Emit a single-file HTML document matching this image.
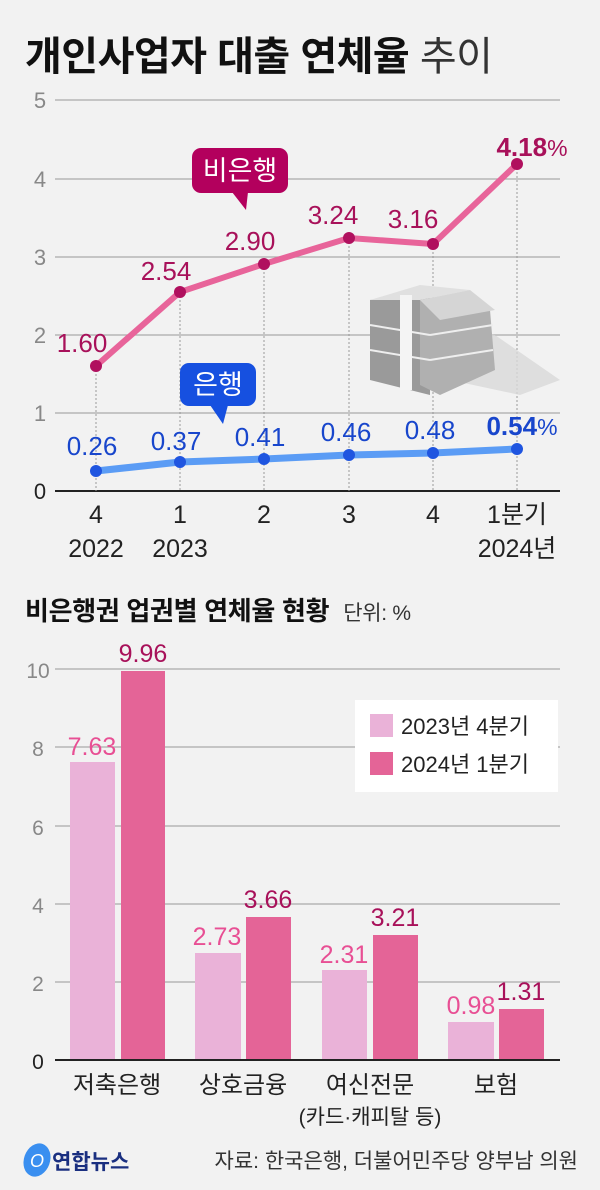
<!DOCTYPE html>
<html><head><meta charset="utf-8"><style>
body{margin:0;background:#f2f2f2;}
svg{display:block;font-family:"Liberation Sans","Noto Sans CJK KR",sans-serif;}
</style></head><body>
<svg width="600" height="1190" viewBox="0 0 600 1190">
<rect width="600" height="1190" fill="#f2f2f2"/>
<text x="25" y="70" font-size="40" font-weight="bold" fill="#111" letter-spacing="-0.5">개인사업자 대출 연체율 <tspan font-weight="normal" fill="#333">추이</tspan></text>
<!-- grid -->
<g stroke="#aaa" stroke-width="1.2"><line x1="55" x2="560" y1="100" y2="100"/><line x1="55" x2="560" y1="179" y2="179"/><line x1="55" x2="560" y1="257" y2="257"/><line x1="55" x2="560" y1="335" y2="335"/><line x1="55" x2="560" y1="413" y2="413"/></g>
<line x1="55" x2="560" y1="491" y2="491" stroke="#222" stroke-width="2"/>
<g font-size="22" fill="#888" text-anchor="middle">
<text x="40" y="108">5</text><text x="40" y="187">4</text><text x="40" y="265">3</text><text x="40" y="343">2</text><text x="40" y="421">1</text><text x="40" y="499" fill="#222">0</text></g>
<g stroke="#999" stroke-dasharray="2,2" stroke-width="1">
<line x1="96" x2="96" y1="366" y2="491"/><line x1="180" x2="180" y1="292" y2="491"/><line x1="264" x2="264" y1="264" y2="491"/><line x1="349" x2="349" y1="238" y2="491"/><line x1="433" x2="433" y1="244" y2="491"/><line x1="517" x2="517" y1="164" y2="491"/></g>
<!-- money stack -->
<g>
<polygon points="440,330 495,335 560,380 520,395 450,380" fill="#d8d8d8" opacity="0.8"/>
<polygon points="370,300 430,290 430,395 370,380" fill="#9a9a9a"/>
<polygon points="370,300 420,285 470,290 420,300" fill="#e0e0e0"/>
<polygon points="420,300 490,310 495,370 440,395 420,385" fill="#b0b0b0"/>
<polygon points="420,300 470,290 495,310 440,320" fill="#d5d5d5"/>
<g stroke="#eee" stroke-width="2"><line x1="370" x2="430" y1="325" y2="335"/><line x1="370" x2="430" y1="350" y2="360"/><line x1="430" x2="493" y1="335" y2="325"/><line x1="430" x2="493" y1="360" y2="350"/></g>
<rect x="400" y="295" width="12" height="95" fill="#f4f4f4"/>
</g>
<!-- pink line -->
<polyline points="96,366 180,292 264,264 349,238 433,244 517,164" fill="none" stroke="#e8649a" stroke-width="6"/>
<g fill="#b0105e"><circle cx="96" cy="366" r="6"/><circle cx="180" cy="292" r="6"/><circle cx="264" cy="264" r="6"/><circle cx="349" cy="238" r="6"/><circle cx="433" cy="244" r="6"/><circle cx="517" cy="164" r="6"/></g>
<g font-size="26" fill="#a8115a" text-anchor="middle">
<text x="82" y="352">1.60</text><text x="166" y="280">2.54</text><text x="250" y="250">2.90</text><text x="333" y="224">3.24</text><text x="413" y="228">3.16</text><text x="532" y="156" font-weight="bold">4.18<tspan font-weight="normal" font-size="23">%</tspan></text></g>
<!-- blue line -->
<polyline points="96,471 180,462 264,459 349,455 433,453 517,449" fill="none" stroke="#5b9cf5" stroke-width="7"/>
<g fill="#1f55e0"><circle cx="96" cy="471" r="6"/><circle cx="180" cy="462" r="6"/><circle cx="264" cy="459" r="6"/><circle cx="349" cy="455" r="6"/><circle cx="433" cy="453" r="6"/><circle cx="517" cy="449" r="6"/></g>
<g font-size="26" fill="#1846cc" text-anchor="middle">
<text x="92" y="455">0.26</text><text x="176" y="450">0.37</text><text x="260" y="446">0.41</text><text x="346" y="441">0.46</text><text x="430" y="439">0.48</text><text x="522" y="435" font-weight="bold">0.54<tspan font-weight="normal" font-size="23">%</tspan></text></g>
<!-- callouts -->
<rect x="192" y="148" width="96" height="45" rx="9" fill="#b3005d"/>
<polygon points="232,192 248,192 246,210" fill="#b3005d"/>
<text x="240" y="180" font-size="27" fill="#fff" text-anchor="middle">비은행</text>
<rect x="180" y="363" width="76" height="43" rx="9" fill="#1650e0"/>
<polygon points="210,405 228,405 223,424" fill="#1650e0"/>
<text x="218" y="394" font-size="27" fill="#fff" text-anchor="middle">은행</text>
<!-- x labels -->
<g font-size="25" fill="#222" text-anchor="middle">
<text x="96" y="523">4</text><text x="180" y="523">1</text><text x="264" y="523">2</text><text x="349" y="523">3</text><text x="433" y="523">4</text><text x="517" y="523">1분기</text>
<text x="96" y="557">2022</text><text x="180" y="557">2023</text><text x="517" y="557">2024년</text></g>
<!-- bar chart -->
<text x="25" y="620" font-size="26" font-weight="bold" fill="#111" letter-spacing="-0.3">비은행권 업권별 연체율 현황<tspan font-weight="normal" font-size="21" fill="#333" dx="14">단위: %</tspan></text>
<g stroke="#aaa" stroke-width="1.2">
<line x1="55" x2="560" y1="669" y2="669"/><line x1="55" x2="560" y1="747" y2="747"/><line x1="55" x2="560" y1="826" y2="826"/><line x1="55" x2="560" y1="904" y2="904"/><line x1="55" x2="560" y1="982" y2="982"/></g>
<g font-size="21" fill="#888" text-anchor="middle">
<text x="38" y="678">10</text><text x="38" y="756">8</text><text x="38" y="835">6</text><text x="38" y="913">4</text><text x="38" y="991">2</text><text x="38" y="1069" fill="#222">0</text></g>
<g fill="#eab2d8"><rect x="70" y="762" width="45" height="298"/><rect x="195" y="953" width="46" height="107"/><rect x="322" y="970" width="45" height="90"/><rect x="448" y="1022" width="46" height="38"/></g>
<g fill="#e46497"><rect x="121" y="671" width="44" height="389"/><rect x="246" y="917" width="45" height="143"/><rect x="373" y="935" width="45" height="125"/><rect x="499" y="1009" width="45" height="51"/></g>
<line x1="55" x2="560" y1="1060" y2="1060" stroke="#222" stroke-width="2"/>
<g font-size="25" text-anchor="middle">
<g fill="#e84f94"><text x="92" y="755">7.63</text><text x="217" y="945">2.73</text><text x="344" y="963">2.31</text><text x="471" y="1014">0.98</text></g>
<g fill="#a8115a"><text x="143" y="662">9.96</text><text x="268" y="908">3.66</text><text x="395" y="926">3.21</text><text x="521" y="1000">1.31</text></g></g>
<rect x="355" y="700" width="203" height="92" fill="#fff"/>
<rect x="370" y="714" width="23" height="23" fill="#eab2d8"/><rect x="370" y="752" width="23" height="23" fill="#e46497"/>
<g font-size="22" fill="#222"><text x="401" y="734">2023년 4분기</text><text x="401" y="772">2024년 1분기</text></g>
<g font-size="24" fill="#222" text-anchor="middle">
<text x="117" y="1093">저축은행</text><text x="243" y="1093">상호금융</text><text x="370" y="1093">여신전문</text><text x="496" y="1093">보험</text>
<text x="370" y="1124" font-size="21">(카드·캐피탈 등)</text></g>
<!-- footer -->
<ellipse cx="37" cy="1160" rx="13" ry="17" fill="#3a8ff0" transform="rotate(20 37 1160)"/>
<text x="37" y="1167" font-size="18" fill="#fff" text-anchor="middle" font-style="italic">O</text>
<text x="52" y="1169" font-size="21" font-weight="bold" fill="#1a2f80">연합뉴스</text>
<text x="578" y="1168" font-size="21" fill="#333" text-anchor="end">자료: 한국은행, 더불어민주당 양부남 의원</text>
</svg>
</body></html>
